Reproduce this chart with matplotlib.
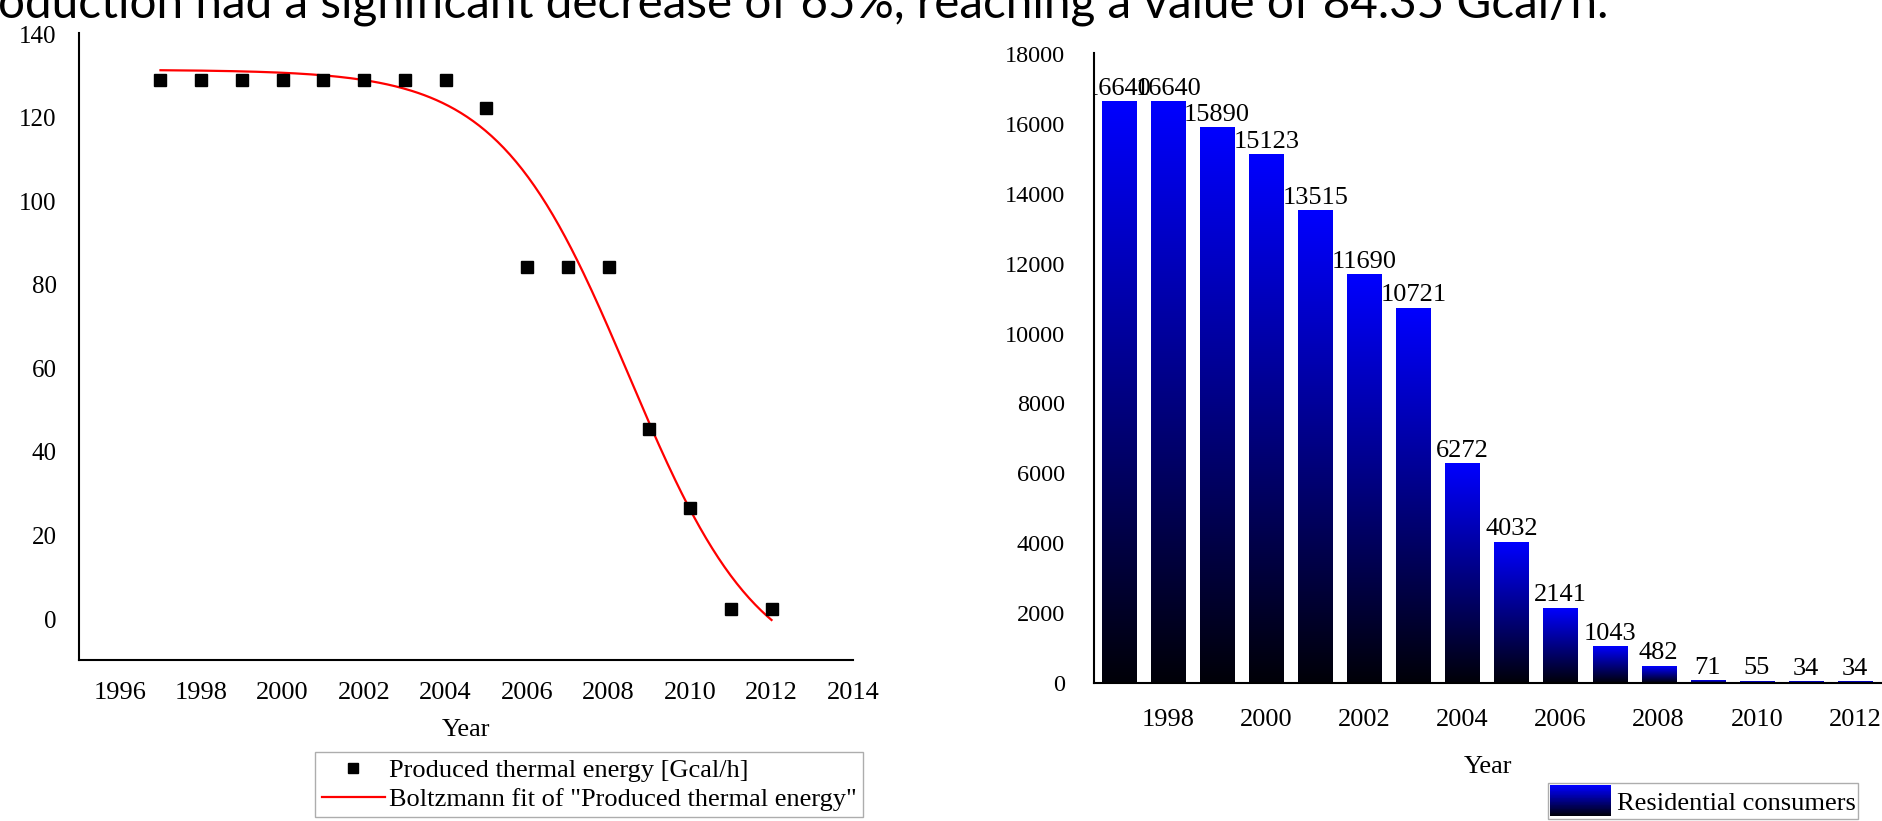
import numpy as np
import matplotlib
matplotlib.use("Agg")
import matplotlib.pyplot as plt
from matplotlib.colors import LinearSegmentedColormap
from matplotlib.legend_handler import HandlerBase
from matplotlib.patches import Rectangle, Patch
from matplotlib.transforms import offset_copy

# left chart: produced thermal energy
years_energy = [1997, 1998, 1999, 2000, 2001, 2002, 2003, 2004,
                2005, 2006, 2007, 2008, 2009, 2010, 2011, 2012]
energy = [129, 129, 129, 129, 129, 129, 129, 129,
          122.3, 84.35, 84.35, 84.35, 45.6, 26.6, 2.5, 2.5]
# Boltzmann fit parameters (A1, A2, x0, dx)
fit_A1, fit_A2, fit_x0, fit_dx = 131.5, -15.0, 2008.5, 1.6

# right chart: residential consumers
years_cons = [1997, 1998, 1999, 2000, 2001, 2002, 2003, 2004,
              2005, 2006, 2007, 2008, 2009, 2010, 2011, 2012]
consumers = [16640, 16640, 15890, 15123, 13515, 11690, 10721, 6272,
             4032, 2141, 1043, 482, 71, 55, 34, 34]

caption = "oduction had a significant decrease of 65%, reaching a value of 84.35 Gcal/h."

serif = "Liberation Serif"
W, H = 1883, 821
fig = plt.figure(figsize=(W / 100, H / 100), dpi=100)

def frac(x0, y0, x1, y1):
    # pixel box (top-left origin) -> figure fraction rect
    return [x0 / W, 1 - y1 / H, (x1 - x0) / W, (y1 - y0) / H]

fig.text(-0.001, 1 - 17 / H, caption, fontsize=34.3, family="Lato",
         ha="left", va="baseline")

# ---------------- left chart ----------------
ax1 = fig.add_axes(frac(79, 33, 853, 660))
ax1.plot(years_energy, energy, "s", color="black", markersize=9.2, zorder=3,
         label="Produced thermal energy [Gcal/h]")
xs = np.linspace(years_energy[0], years_energy[-1], 300)
ys = fit_A2 + (fit_A1 - fit_A2) / (1 + np.exp((xs - fit_x0) / fit_dx))
ax1.plot(xs, ys, color="red", lw=1.6, zorder=2,
         label='Boltzmann fit of "Produced thermal energy"')
ax1.set_xlim(1995, 2014)
ax1.set_ylim(-9.8, 140.3)
ax1.set_xticks(range(1996, 2015, 2))
ax1.set_yticks(range(0, 141, 20))
for s in ["top", "right"]:
    ax1.spines[s].set_visible(False)
for s in ["left", "bottom"]:
    ax1.spines[s].set_linewidth(1.5)
ax1.tick_params(length=0, labelfontfamily=serif)
ax1.tick_params(axis="x", pad=16, labelsize=19)
ax1.tick_params(axis="y", pad=16, labelsize=18)
ax1.set_xlabel("Year", fontsize=19, family=serif, labelpad=10.5)

leg1 = fig.legend(*ax1.get_legend_handles_labels(), loc="upper left",
                  bbox_to_anchor=(315 / W, 1 - 752 / H), prop={"family": serif, "size": 19},
                  frameon=True, fancybox=False, edgecolor="#999999", borderpad=0.25,
                  labelspacing=0.2, handlelength=2.4, handletextpad=0.15,
                  borderaxespad=0, markerscale=0.75)
leg1.get_frame().set_linewidth(1.0)

# ---------------- right chart ----------------
cmap = LinearSegmentedColormap.from_list("blk_blue", ["#000008", "#0000ff"])
ax2 = fig.add_axes(frac(1094, 53, 1882, 683))
bars = ax2.bar(years_cons, consumers, width=0.7, color="none", linewidth=0)
grad = np.linspace(0, 1, 256).reshape(-1, 1)
for b in bars:
    x0, y0 = b.get_x(), b.get_y()
    ax2.imshow(grad, cmap=cmap, origin="lower", aspect="auto", interpolation="bilinear",
               extent=[x0, x0 + b.get_width(), y0, y0 + b.get_height()], zorder=2)

lab_tr = offset_copy(ax2.transData, fig=fig, y=5, units="points")
for yr, v in zip(years_cons, consumers):
    ax2.text(yr, v, str(v), transform=lab_tr, ha="center", va="baseline",
             fontsize=19, family=serif, clip_on=True, zorder=4)

ax2.set_xlim(1996.49, 2012.55)
ax2.set_ylim(0, 18030)
ax2.set_xticks(range(1998, 2013, 2))
ax2.set_yticks(range(0, 18001, 2000))
for s in ["top", "right"]:
    ax2.spines[s].set_visible(False)
for s in ["left", "bottom"]:
    ax2.spines[s].set_linewidth(1.5)
ax2.tick_params(length=0, labelfontfamily=serif)
ax2.tick_params(axis="x", pad=18.5, labelsize=19)
ax2.tick_params(axis="y", pad=21, labelsize=17.5)
ax2.set_xlabel("Year", fontsize=19, family=serif, labelpad=18)


class GradientHandler(HandlerBase):
    def create_artists(self, legend, orig_handle, xdescent, ydescent,
                       width, height, fontsize, trans):
        n = 40
        strips = []
        for i in range(n):
            strips.append(Rectangle((-xdescent, -ydescent + i * height / n), width,
                                    height / n * 1.05, facecolor=cmap(i / (n - 1)),
                                    edgecolor="none", transform=trans))
        return strips


leg2 = fig.legend([Patch()], ["Residential consumers"], loc="upper left",
                  bbox_to_anchor=(1548 / W, 1 - 783 / H),
                  handler_map={Patch: GradientHandler()},
                  prop={"family": serif, "size": 19}, frameon=True, fancybox=False,
                  edgecolor="#999999", borderpad=0.08, handlelength=2.3, handleheight=1.45,
                  handletextpad=0.25, borderaxespad=0)
leg2.get_frame().set_linewidth(1.0)

fig.savefig("out.png", dpi=100, facecolor="white")
